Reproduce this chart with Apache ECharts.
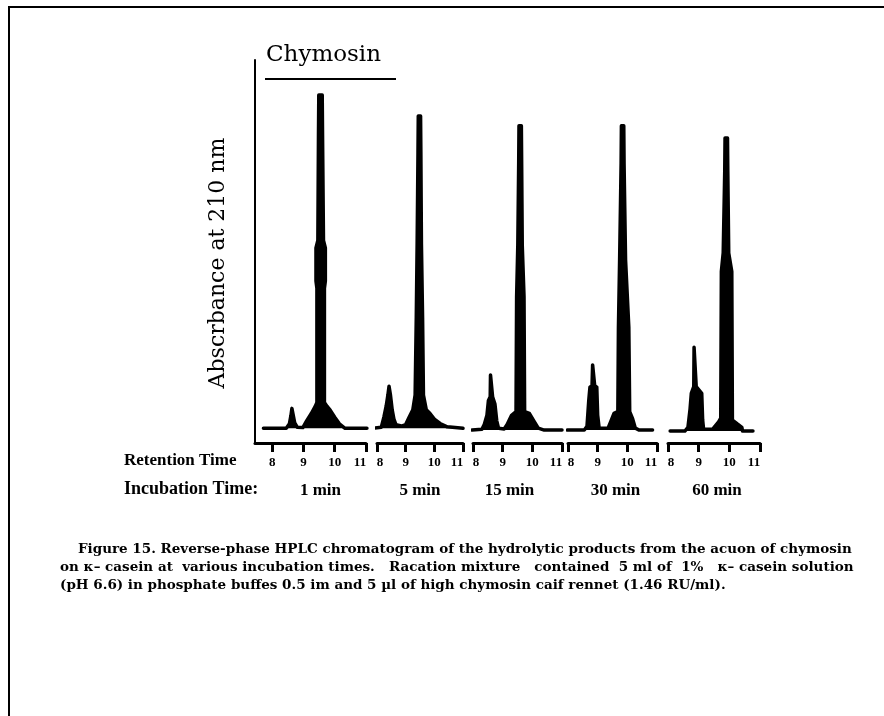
<!DOCTYPE html>
<html>
<head>
<meta charset="utf-8">
<script src="https://cdn.jsdelivr.net/npm/echarts@6/dist/echarts.min.js"></script>
<style>
  html, body { margin: 0; padding: 0; background: #fff; }
  #chart { width: 884px; height: 716px; }
</style>
</head>
<body>
<div id="chart"></div>
<script>
// Retention-time tick labels shared by every panel (minutes)
const retentionTicks = [8, 9, 10, 11];

// Incubation time of each chromatogram
const incubationLabels = ['1 min', '5 min', '15 min', '30 min', '60 min'];

// Chromatogram traces: [retention time (min), absorbance (arbitrary units)]
const trace1min = [
  [7.72, 0], [8.45, 0], [8.55, 1.2], [8.6, 3.5], [8.63, 5.4], [8.67, 5], [8.72, 1.5], [8.8, 0.3],
  [8.98, 0.2], [9.1, 2], [9.25, 4], [9.38, 6], [9.43, 7],
  [9.43, 38], [9.4, 40], [9.4, 49], [9.46, 51], [9.48, 80], [9.49, 90.5], [9.6, 90.5], [9.61, 80],
  [9.64, 51], [9.7, 49], [9.7, 40], [9.67, 38], [9.67, 7],
  [9.75, 6], [9.85, 5], [10.0, 3], [10.15, 1.2], [10.33, 0], [11.03, 0]
];

const trace5min = [
  [7.87, 0], [8.15, 0.3], [8.24, 3], [8.32, 6], [8.38, 9], [8.42, 11.4], [8.47, 9], [8.53, 5],
  [8.59, 2.5], [8.66, 1], [8.85, 0.6], [9.0, 1], [9.12, 3], [9.25, 5], [9.33, 9],
  [9.37, 30], [9.4, 50], [9.43, 75], [9.44, 84.8], [9.52, 84.8], [9.53, 75], [9.55, 50], [9.59, 30],
  [9.62, 9], [9.72, 5], [9.85, 4], [10.0, 2.5], [10.2, 1.3], [10.45, 0.4], [11.0, 0]
];

const trace15min = [
  [7.97, 0], [8.3, 0.2], [8.38, 1.5], [8.47, 4], [8.52, 8], [8.58, 9], [8.59, 14.9], [8.64, 14.9],
  [8.66, 9], [8.74, 7], [8.8, 2.5], [8.86, 0.5], [9.05, 0.3], [9.15, 1.5], [9.3, 4], [9.45, 5],
  [9.47, 36], [9.51, 50], [9.54, 72], [9.55, 82.2], [9.63, 82.2], [9.64, 72], [9.66, 50], [9.72, 36],
  [9.74, 5], [9.9, 4.5], [10.05, 2.5], [10.2, 0.5], [10.4, 0], [11.0, 0]
];

const trace30min = [
  [7.98, 0], [8.55, 0], [8.64, 1], [8.7, 8], [8.74, 11.6], [8.81, 12], [8.83, 17.6], [8.87, 17.6],
  [8.9, 12], [8.97, 11.6], [9.0, 4], [9.05, 0.5], [9.35, 0.5], [9.45, 2.5], [9.55, 4.5], [9.68, 5],
  [9.7, 27.8], [9.74, 46], [9.79, 72], [9.8, 82.2], [9.88, 82.2], [9.89, 72], [9.94, 46], [10.05, 27.8],
  [10.08, 5], [10.18, 3], [10.27, 0.5], [10.4, 0], [10.85, 0]
];

const trace60min = [
  [8.07, 0], [8.55, 0], [8.65, 1], [8.72, 6], [8.76, 10.2], [8.84, 12], [8.85, 22.6], [8.89, 22.6],
  [8.92, 12], [9.1, 10.2], [9.13, 3], [9.16, 0.5], [9.45, 0.5], [9.55, 1.5], [9.65, 2.5], [9.72, 3.5],
  [9.74, 43], [9.8, 48], [9.85, 70], [9.86, 79], [9.94, 79], [9.95, 70], [9.98, 48], [10.08, 43],
  [10.1, 3], [10.25, 2], [10.41, 1], [10.43, 0], [10.77, 0]
];

const traces = [trace1min, trace5min, trace15min, trace30min, trace60min];

// Panel layout: left edge, width, x-range, y-range and label offset of each chromatogram
const panels = [
  { left: 255, width: 111, xMin: 7.45, yMin: -4.0, nameShift: 10 },
  { left: 377, width: 86,  xMin: 8,    yMin: -4.0, nameShift: 0 },
  { left: 473, width: 89,  xMin: 8,    yMin: -3.5, nameShift: -8 },
  { left: 568, width: 89,  xMin: 8,    yMin: -3.5, nameShift: 3 },
  { left: 668, width: 92,  xMin: 8,    yMin: -3.2, nameShift: 3 }
];

const serif = '"DejaVu Serif", "Liberation Serif", serif';
const timesLike = '"Liberation Serif", "DejaVu Serif", serif';

const tickFont = { color: '#000', fontFamily: timesLike, fontSize: 13, fontWeight: 'bold' };

const chart = echarts.init(document.getElementById('chart'), null, { renderer: 'canvas' });

const option = {
  backgroundColor: '#ffffff',
  animation: false,
  grid: panels.map(p => ({ left: p.left, width: p.width, top: 60, height: 383, containLabel: false })),
  xAxis: panels.map((p, i) => {
    // the first panel starts left of 8 min, so its ticks are listed explicitly
    const explicit = p.xMin !== retentionTicks[0];
    const first = retentionTicks[0];
    const last = retentionTicks[retentionTicks.length - 1];
    const tick = { show: true, length: 9, inside: false, lineStyle: { color: '#000', width: 3 } };
    const label = Object.assign({
      show: true, margin: 13,
      // end labels sit slightly inside the bracket ends
      formatter: v => v === last ? '{end|' + v + '}' : (v === first && !explicit ? '{start|' + v + '}' : String(v)),
      rich: {
        end: Object.assign({ padding: [0, 12, 0, 0] }, tickFont),
        start: Object.assign({ padding: [0, 0, 0, 6] }, tickFont)
      }
    }, tickFont);
    if (explicit) {
      tick.customValues = retentionTicks;
      label.customValues = retentionTicks;
    }
    return {
      type: 'value',
      gridIndex: i,
      min: p.xMin,
      max: last,
      interval: explicit ? undefined : 1,
      name: incubationLabels[i],
      nameLocation: 'middle',
      nameGap: 39,
      nameTextStyle: {
        color: '#000', fontFamily: timesLike, fontSize: 17, fontWeight: 'bold',
        padding: p.nameShift >= 0 ? [0, 0, 0, p.nameShift * 2] : [0, -p.nameShift * 2, 0, 0]
      },
      axisLine: { show: true, onZero: false, lineStyle: { color: '#000', width: 3 } },
      axisTick: tick,
      axisLabel: label,
      splitLine: { show: false }
    };
  }),
  yAxis: panels.map((p, i) => ({
    type: 'value',
    gridIndex: i,
    min: p.yMin,
    max: 100,
    axisLine: { show: i === 0, onZero: false, lineStyle: { color: '#000', width: 2 } },
    axisTick: { show: false },
    axisLabel: { show: false },
    splitLine: { show: false }
  })),
  series: traces.map((data, i) => ({
    type: 'line',
    xAxisIndex: i,
    yAxisIndex: i,
    data: data,
    clip: false,
    symbol: 'none',
    smooth: false,
    lineStyle: { color: '#000', width: 3.5, join: 'round', cap: 'round' },
    areaStyle: { color: '#000', opacity: 1, origin: 0 }
  })),
  graphic: [
    // page frame
    {
      type: 'polyline', silent: true,
      shape: { points: [[9, 716], [9, 7], [884, 7]] },
      style: { stroke: '#000', lineWidth: 2, fill: null }
    },
    // panel heading with underline
    {
      type: 'text', left: 266, top: 44, silent: true,
      style: { text: 'Chymosin', fill: '#000', font: 'normal 23px ' + serif }
    },
    {
      type: 'line', silent: true,
      shape: { x1: 265, y1: 79, x2: 396, y2: 79 },
      style: { stroke: '#000', lineWidth: 2 }
    },
    // vertical axis title
    {
      type: 'text', x: 218, y: 263, rotation: Math.PI / 2, silent: true,
      style: { text: 'Abscrbance at 210 nm', fill: '#000', font: 'normal 22px ' + serif, align: 'center', verticalAlign: 'middle' }
    },
    {
      type: 'text', left: 124, top: 452, silent: true,
      style: { text: 'Retention Time', fill: '#000', font: 'bold 17px ' + timesLike }
    },
    {
      type: 'text', left: 124, top: 480, silent: true,
      style: { text: 'Incubation Time:', fill: '#000', font: 'bold 18px ' + timesLike }
    },
    // figure caption
    {
      type: 'text', left: 78, top: 542, silent: true,
      style: { text: 'Figure 15. Reverse-phase HPLC chromatogram of the hydrolytic products from the acuon of chymosin', fill: '#000', font: 'bold 13.5px ' + serif }
    },
    {
      type: 'text', left: 60, top: 560, silent: true,
      style: { text: 'on \u03ba\u2013 casein at  various incubation times.   Racation mixture   contained  5 ml of  1%   \u03ba\u2013 casein solution', fill: '#000', font: 'bold 13.5px ' + serif }
    },
    {
      type: 'text', left: 60, top: 578, silent: true,
      style: { text: '(pH 6.6) in phosphate buffes 0.5 im and 5 \u00b5l of high chymosin caif rennet (1.46 RU/ml).', fill: '#000', font: 'bold 13.5px ' + serif }
    }
  ]
};

chart.setOption(option);
</script>
</body>
</html>
